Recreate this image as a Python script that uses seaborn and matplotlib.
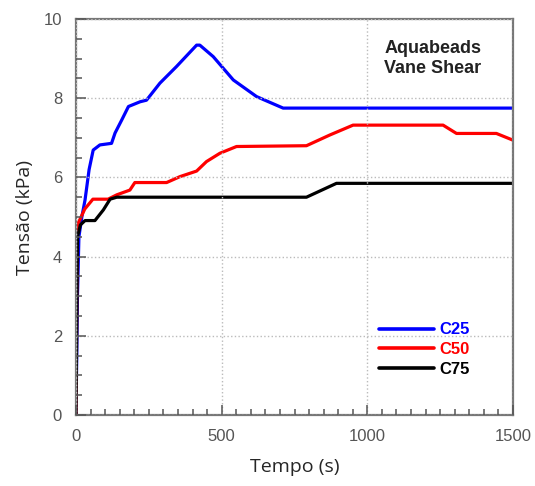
import matplotlib
matplotlib.use("Agg")
import matplotlib.pyplot as plt
import seaborn as sns
import pandas as pd
from matplotlib.ticker import MultipleLocator

# Data
c25_t = [0, 5, 10, 20, 31, 45, 59, 82, 122, 134, 157, 180, 220, 242, 288, 345, 414, 425, 471, 540, 620, 711, 1500]
c25_y = [0, 3.0, 4.5, 5.0, 5.43, 6.2, 6.69, 6.82, 6.86, 7.12, 7.45, 7.79, 7.91, 7.95, 8.38, 8.80, 9.34, 9.34, 9.05, 8.46, 8.04, 7.75, 7.75]

c50_t = [0, 4, 8, 30, 58, 110, 140, 185, 202, 311, 357, 414, 448, 494, 551, 791, 871, 951, 1260, 1306, 1443, 1500]
c50_y = [0, 4.5, 4.85, 5.2, 5.45, 5.45, 5.56, 5.68, 5.87, 5.87, 6.02, 6.16, 6.40, 6.61, 6.78, 6.80, 7.07, 7.32, 7.32, 7.11, 7.11, 6.94]

c75_t = [0, 5, 15, 31, 65, 94, 117, 140, 791, 894, 1500]
c75_y = [0, 4.5, 4.8, 4.91, 4.91, 5.18, 5.45, 5.5, 5.5, 5.85, 5.85]

series = ["C25", "C50", "C75"]
colors = ["#0000ff", "#ff0000", "#000000"]

frames = []
for name, t, y in zip(series, [c25_t, c50_t, c75_t], [c25_y, c50_y, c75_y]):
    frames.append(pd.DataFrame({"t": t, "y": y, "serie": name}))
df = pd.concat(frames, ignore_index=True)

sns.set_style("white")
plt.rcParams["font.family"] = ["Liberation Sans", "DejaVu Sans"]
plt.rcParams.update({
    "xtick.bottom": True, "ytick.left": True,
    "xtick.direction": "in", "ytick.direction": "in",
    "xtick.major.size": 7, "ytick.major.size": 7,
    "xtick.minor.size": 4, "ytick.minor.size": 4,
    "xtick.major.width": 1.1, "ytick.major.width": 1.1,
    "xtick.minor.width": 1.1, "ytick.minor.width": 1.1,
    "xtick.color": "#555555", "ytick.color": "#555555",
    "xtick.minor.visible": True, "ytick.minor.visible": True,
    "axes.axisbelow": False,
})

fig = plt.figure(figsize=(5.35, 4.86), dpi=100)
ax = fig.add_axes([76 / 535, 1 - 415 / 486, 437 / 535, 396 / 486])

sns.lineplot(data=df, x="t", y="y", hue="serie", palette=dict(zip(series, colors)),
             estimator=None, sort=False, linewidth=2.3, ax=ax)

ax.set_xlim(0, 1500)
ax.set_ylim(0, 10)
ax.xaxis.set_major_locator(MultipleLocator(500))
ax.xaxis.set_minor_locator(MultipleLocator(50))
ax.yaxis.set_major_locator(MultipleLocator(2))
ax.yaxis.set_minor_locator(MultipleLocator(0.5))
ax.grid(True, which="major", linestyle=":", color="#bbbbbb", linewidth=1)
for s in ax.spines.values():
    s.set_color("#777777")
    s.set_linewidth(1.6)

ax.set_xlabel("Tempo (s)", fontsize=14, family=["Open Sans", "DejaVu Sans"], labelpad=10)
ax.set_ylabel("Tensão (kPa)", fontsize=14, family=["Open Sans", "DejaVu Sans"], labelpad=7)

ax.text(0.817, 0.90, "Aquabeads\nVane Shear", transform=ax.transAxes, ha="center", va="center",
        fontsize=13, fontweight="bold", color="#222222", linespacing=1.25)

leg = ax.legend(loc="center left", bbox_to_anchor=(0.66, 0.165), frameon=False,
                labelcolor="linecolor", prop={"weight": "bold", "size": 12},
                handlelength=3.3, handletextpad=0.3, labelspacing=0.28, title=None)
for h in leg.get_lines():
    h.set_linewidth(2.6)

ax.tick_params(which="both", direction="in", bottom=True, left=True, top=False, right=False,
               color="#555555")
ax.tick_params(which="major", length=7, width=1.1)
ax.tick_params(which="minor", length=4, width=1.1)
ax.tick_params(labelcolor="#555555", labelsize=12)
ax.tick_params(axis="x", which="major", pad=10)
ax.tick_params(axis="y", which="major", pad=10)

fig.savefig("out.png", dpi=100)
